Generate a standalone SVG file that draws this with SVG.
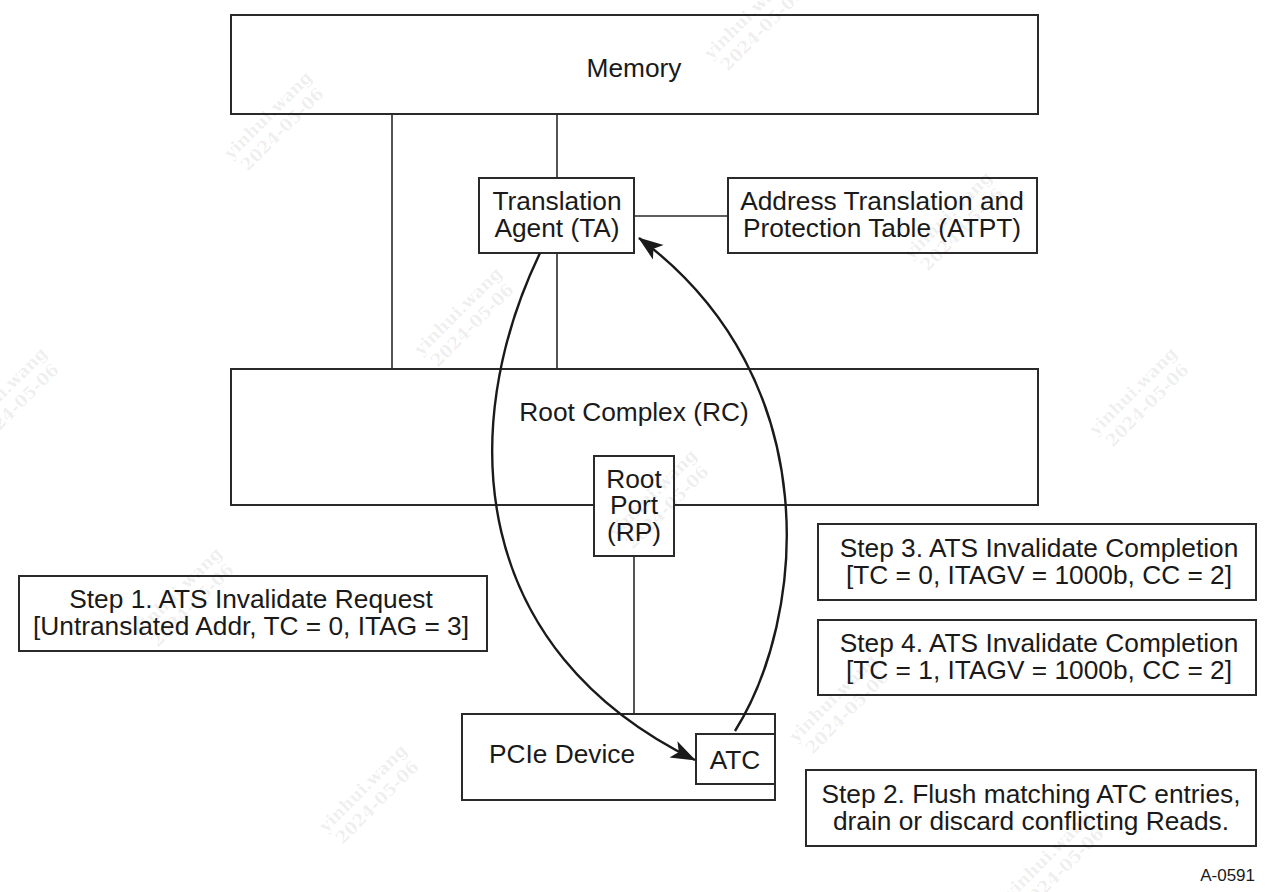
<svg xmlns="http://www.w3.org/2000/svg" width="1269" height="892" viewBox="0 0 1269 892">
<style>
.box{fill:#fff;stroke:#2a2a2a;stroke-width:2}
.ln{fill:none;stroke:#2a2a2a;stroke-width:1.6}
.arc{fill:none;stroke:#1a1a1a;stroke-width:2.4}
text{font-family:"Liberation Sans",Arial,sans-serif;font-size:26.3px;fill:#1a1a1a;text-anchor:middle}
.wm{font-family:"DejaVu Serif",serif;font-weight:bold;font-size:17px;fill:#000;fill-opacity:0.07;text-anchor:middle}
.small{font-size:17px;text-anchor:end}
</style>
<defs>
<marker id="ah" markerUnits="userSpaceOnUse" markerWidth="30" markerHeight="24" refX="24" refY="9" orient="auto">
<path d="M0,0 L25,9 L0,18 L6,9 z" fill="#1a1a1a"/>
</marker>
</defs>
<g id="connectors">
<line class="ln" x1="392" y1="114" x2="392" y2="369"/>
<line class="ln" x1="557" y1="114" x2="557" y2="178"/>
<line class="ln" x1="557" y1="253" x2="557" y2="369"/>
<line class="ln" x1="634" y1="216" x2="728" y2="216"/>
<line class="ln" x1="634" y1="556" x2="634" y2="714"/>
</g>
<g id="memory"><rect class="box" x="231" y="15" width="807" height="99"/><text x="634" y="77">Memory</text></g>
<g id="rc"><rect class="box" x="231" y="369" width="807" height="136"/><text x="634" y="421">Root Complex (RC)</text></g>
<g id="ta"><rect class="box" x="479" y="178" width="155" height="75"/><text x="557" y="210">Translation</text><text x="557" y="237">Agent (TA)</text></g>
<g id="atpt"><rect class="box" x="728" y="178" width="309" height="75"/><text x="882" y="210">Address Translation and</text><text x="882" y="237">Protection Table (ATPT)</text></g>
<g id="rp"><rect class="box" x="594" y="456" width="80" height="100"/><text x="634" y="488">Root</text><text x="634" y="514">Port</text><text x="634" y="541">(RP)</text></g>
<g id="pcie"><rect class="box" x="462" y="714" width="313" height="86"/><text x="562" y="763">PCIe Device</text></g>
<g id="atc"><rect class="box" x="696" y="734" width="79" height="50"/><text x="735" y="769">ATC</text></g>
<g id="step1"><rect class="box" x="19" y="576" width="468" height="75"/><text x="251" y="608">Step 1. ATS Invalidate Request</text><text x="251" y="635">[Untranslated Addr, TC = 0, ITAG = 3]</text></g>
<g id="step3"><rect class="box" x="818" y="524" width="438" height="76"/><text x="1039" y="557">Step 3. ATS Invalidate Completion</text><text x="1039" y="584">[TC = 0, ITAGV = 1000b, CC = 2]</text></g>
<g id="step4"><rect class="box" x="818" y="620" width="438" height="75"/><text x="1039" y="652">Step 4. ATS Invalidate Completion</text><text x="1039" y="679">[TC = 1, ITAGV = 1000b, CC = 2]</text></g>
<g id="step2"><rect class="box" x="806" y="770" width="450" height="76"/><text x="1031" y="803">Step 2. Flush matching ATC entries,</text><text x="1031" y="830">drain or discard conflicting Reads.</text></g>
<g id="arrows">
<path class="arc" d="M540,253 C455,430 470,650 695,760" marker-end="url(#ah)"/>
<path class="arc" d="M735,731 C805,620 830,380 639,238" marker-end="url(#ah)"/>
</g>
<text class="small" x="1255" y="881">A-0591</text>
<g id="watermarks">
<g transform="translate(275,122) rotate(-45)"><text class="wm" x="0" y="-4">yinhui.wang</text><text class="wm" x="0" y="16">2024-05-06</text></g>
<g transform="translate(755,22) rotate(-45)"><text class="wm" x="0" y="-4">yinhui.wang</text><text class="wm" x="0" y="16">2024-05-06</text></g>
<g transform="translate(955,222) rotate(-45)"><text class="wm" x="0" y="-4">yinhui.wang</text><text class="wm" x="0" y="16">2024-05-06</text></g>
<g transform="translate(465,318) rotate(-45)"><text class="wm" x="0" y="-4">yinhui.wang</text><text class="wm" x="0" y="16">2024-05-06</text></g>
<g transform="translate(1140,398) rotate(-45)"><text class="wm" x="0" y="-4">yinhui.wang</text><text class="wm" x="0" y="16">2024-05-06</text></g>
<g transform="translate(10,398) rotate(-45)"><text class="wm" x="0" y="-4">yinhui.wang</text><text class="wm" x="0" y="16">2024-05-06</text></g>
<g transform="translate(660,500) rotate(-45)"><text class="wm" x="0" y="-4">yinhui.wang</text><text class="wm" x="0" y="16">2024-05-06</text></g>
<g transform="translate(185,598) rotate(-45)"><text class="wm" x="0" y="-4">yinhui.wang</text><text class="wm" x="0" y="16">2024-05-06</text></g>
<g transform="translate(840,705) rotate(-45)"><text class="wm" x="0" y="-4">yinhui.wang</text><text class="wm" x="0" y="16">2024-05-06</text></g>
<g transform="translate(370,795) rotate(-45)"><text class="wm" x="0" y="-4">yinhui.wang</text><text class="wm" x="0" y="16">2024-05-06</text></g>
<g transform="translate(1055,862) rotate(-45)"><text class="wm" x="0" y="-4">yinhui.wang</text><text class="wm" x="0" y="16">2024-05-06</text></g>
</g>
</svg>
